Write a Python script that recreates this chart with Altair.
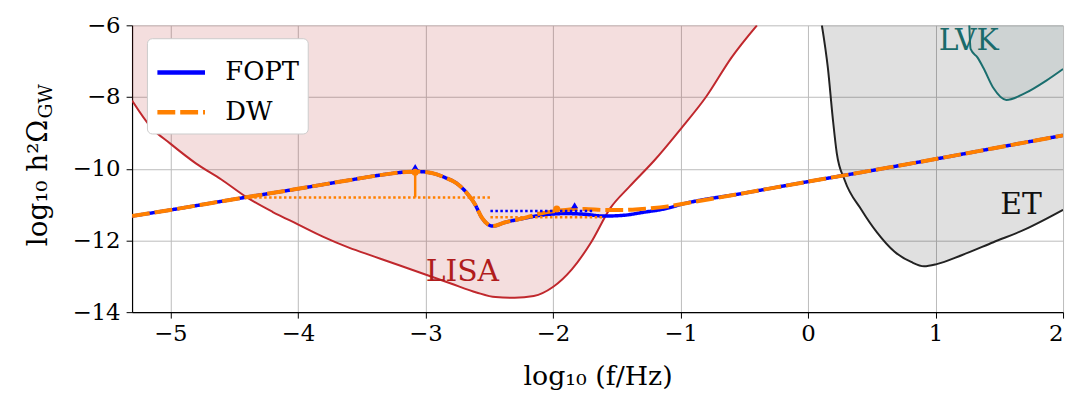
import altair as alt
import pandas as pd

# ---------------- data ----------------
curve_x = [-5.3, -5.0, -4.5, -4.0, -3.6, -3.3, -3.15, -3.05, -2.95, -2.85, -2.75, -2.67,
           -2.61, -2.56, -2.51, -2.47, -2.38, -2.25, -2.1, -1.9, -1.75, -1.6, -1.45, -1.3,
           -1.1, -1.0, -0.5, 0.0, 0.5, 1.0, 1.5, 2.0]
fopt_y = [-11.32, -11.15, -10.85, -10.56, -10.32, -10.15, -10.09, -10.08, -10.12, -10.24,
          -10.42, -10.7, -11.0, -11.35, -11.55, -11.6, -11.5, -11.4, -11.3, -11.25, -11.27,
          -11.32, -11.3, -11.22, -11.1, -11.0, -10.68, -10.36, -10.05, -9.73, -9.4, -9.07]
dw_y = [-11.32, -11.15, -10.85, -10.56, -10.32, -10.15, -10.09, -10.08, -10.12, -10.24,
        -10.42, -10.7, -11.0, -11.35, -11.55, -11.6, -11.5, -11.4, -11.25, -11.15, -11.12,
        -11.15, -11.15, -11.12, -11.05, -10.99, -10.68, -10.36, -10.05, -9.73, -9.4, -9.07]

lisa_x = [-5.3, -5.15, -5.0, -4.8, -4.6, -4.4, -4.2, -4.0, -3.8, -3.6, -3.4, -3.2, -3.0,
          -2.8, -2.6, -2.45, -2.3, -2.15, -2.0, -1.85, -1.7, -1.55, -1.4, -1.2, -1.0,
          -0.8, -0.6, -0.4]
lisa_y = [-8.1, -8.85, -9.3, -9.85, -10.3, -10.8, -11.2, -11.55, -11.9, -12.2, -12.45,
          -12.7, -12.95, -13.2, -13.45, -13.58, -13.6, -13.55, -13.3, -12.8, -12.05,
          -11.1, -10.5, -9.75, -8.9, -8.0, -6.9, -6.0]

et_x = [0.109, 0.156, 0.194, 0.226, 0.288, 0.42, 0.544, 0.677, 0.809, 0.91, 1.01, 1.2,
        1.454, 1.71, 2.0]
et_y = [-6.0, -7.19, -8.58, -9.57, -10.32, -11.15, -11.79, -12.31, -12.6, -12.72,
        -12.66, -12.42, -12.05, -11.68, -11.15]

lvk_x = [1.265, 1.275, 1.33, 1.376, 1.454, 1.555, 1.71, 1.866, 2.0]
lvk_y = [-6.0, -6.66, -6.9, -7.19, -7.75, -8.08, -7.88, -7.55, -7.22]

# plateau (dotted) levels
dot_series = ["DW", "DW", "FOPT"]
dot_x1 = [-4.42, -2.49, -2.49]
dot_x2 = [-2.49, -1.6, -1.68]
dot_y = [-10.8, -11.35, -11.18]

# peak markers
peak_series = ["FOPT", "DW", "FOPT", "DW"]
peak_kind = ["tri", "circ", "tri", "circ"]
peak_x = [-3.08, -3.08, -1.83, -1.97]
peak_y = [-9.95, -10.1, -11.02, -11.12]

labels = ["LISA", "LVK", "ET"]
label_x = [-2.71, 1.26, 1.67]
label_y = [-12.87, -6.44, -11.0]
label_color = ["#b01c1c", "#1a6b6b", "#111111"]

x_ticks = [-5, -4, -3, -2, -1, 0, 1, 2]
y_ticks = [-14, -12, -10, -8, -6]

# ---------------- tables ----------------
curves = pd.DataFrame({
    "x": curve_x * 2,
    "y": fopt_y + dw_y,
    "series": ["FOPT"] * len(curve_x) + ["DW"] * len(curve_x),
})
lisa = pd.DataFrame({"x": lisa_x, "y": lisa_y})
et = pd.DataFrame({"x": et_x, "y": et_y})
lvk = pd.DataFrame({"x": lvk_x, "y": lvk_y})
dots = pd.DataFrame({"series": dot_series, "x1": dot_x1, "x2": dot_x2, "y": dot_y})
peaks = pd.DataFrame({"series": peak_series, "kind": peak_kind, "x": peak_x, "y": peak_y})
errbar = pd.DataFrame({"x": [peak_x[1]], "y1": [peak_y[1]], "y2": [dot_y[0]]})
texts = pd.DataFrame({"label": labels, "x": label_x, "y": label_y, "c": label_color})

FONT = "DejaVu Serif"

xs = alt.Scale(domain=[-5.3, 2], nice=False, zero=False)
ys = alt.Scale(domain=[-14, -6], nice=False, zero=False)
X = lambda f="x": alt.X(f"{f}:Q", scale=xs, axis=alt.Axis(values=x_ticks, title="log₁₀ (f/Hz)"))
Y = lambda f="y": alt.Y(f"{f}:Q", scale=ys, axis=alt.Axis(values=y_ticks, title=None))

color_scale = alt.Scale(domain=["FOPT", "DW"], range=["#0000ff", "#ff8000"])
dash_scale = alt.Scale(domain=["FOPT", "DW"], range=[[1, 0], [18, 5]])

lisa_fill = alt.Chart(lisa).mark_area(color="#b22222", opacity=0.15, clip=True,
                                      interpolate="monotone").encode(
    x=X(), y=Y(), y2=alt.datum(-6))
lisa_line = alt.Chart(lisa).mark_line(color="#c0282d", strokeWidth=2, clip=True,
                                      interpolate="monotone").encode(x=X(), y=Y())

et_fill = alt.Chart(et).mark_area(color="#000000", opacity=0.12, clip=True,
                                  interpolate="monotone").encode(
    x=X(), y=Y(), y2=alt.datum(-6))
et_line = alt.Chart(et).mark_line(color="#222222", strokeWidth=2, clip=True,
                                  interpolate="monotone").encode(x=X(), y=Y())

lvk_fill = alt.Chart(lvk).mark_area(color="#2f5f5f", opacity=0.1, clip=True,
                                    interpolate="monotone").encode(
    x=X(), y=Y(), y2=alt.datum(-6))
lvk_line = alt.Chart(lvk).mark_line(color="#1a6e6e", strokeWidth=2, clip=True,
                                    interpolate="monotone").encode(x=X(), y=Y())

legend = alt.Legend(
    title=None, orient="none", legendX=15, legendY=13, symbolType="stroke",
    symbolSize=2300, symbolStrokeWidth=4.5, labelFont=FONT, labelFontSize=26,
    labelColor="black", fillColor="white", strokeColor="#cccccc", cornerRadius=5,
    padding=8, rowPadding=-3, labelOffset=18)

fopt_line = alt.Chart(curves).transform_filter(alt.datum.series == "FOPT").mark_line(
    strokeWidth=3.5, clip=True, interpolate="monotone").encode(
    x=X(), y=Y(),
    color=alt.Color("series:N", scale=color_scale, legend=legend),
    strokeDash=alt.StrokeDash("series:N", scale=dash_scale, legend=legend))
dw_line = alt.Chart(curves).transform_filter(alt.datum.series == "DW").mark_line(
    strokeWidth=4, clip=True, interpolate="monotone").encode(
    x=X(), y=Y(),
    color=alt.Color("series:N", scale=color_scale, legend=legend),
    strokeDash=alt.StrokeDash("series:N", scale=dash_scale, legend=legend))

dot_lines = alt.Chart(dots).mark_rule(strokeWidth=2.5, strokeDash=[2.5, 2.5]).encode(
    x=X("x1"), x2="x2", y=Y(),
    color=alt.Color("series:N", scale=color_scale, legend=None))
err_rule = alt.Chart(errbar).mark_rule(strokeWidth=2.5, color="#ff8000").encode(
    x=X(), y=Y("y1"), y2="y2")
peak_pts = alt.Chart(peaks).mark_point(filled=True, size=50, opacity=1).encode(
    x=X(), y=Y(),
    color=alt.Color("series:N", scale=color_scale, legend=None),
    shape=alt.Shape("kind:N", scale=alt.Scale(domain=["tri", "circ"], range=["triangle-up", "circle"]), legend=None))

text_marks = alt.Chart(texts).mark_text(font=FONT, fontSize=30).encode(
    x=X(), y=Y(), text="label:N", color=alt.Color("c:N", scale=None))

ytitle1 = alt.Chart(pd.DataFrame({"t": ["log₁₀ h²Ω"]})).mark_text(
    font=FONT, fontSize=28, angle=270, align="right", baseline="middle", color="black").encode(
    x=alt.value(-94), y=alt.value(95), text="t:N")
ytitle2 = alt.Chart(pd.DataFrame({"t": ["GW"]})).mark_text(
    font=FONT, fontSize=19, angle=270, align="left", baseline="middle", color="black").encode(
    x=alt.value(-87), y=alt.value(94), text="t:N")

chart = alt.layer(
    lisa_fill, et_fill, lvk_fill, lisa_line, et_line, lvk_line,
    fopt_line, dw_line, dot_lines, err_rule, peak_pts, text_marks, ytitle1, ytitle2,
).properties(
    width=938, height=289,
    autosize=alt.AutoSizeParams(type="none"),
    padding={"left": 125, "top": 16, "right": 6, "bottom": 79},
).configure_view(stroke=None).configure_axis(
    labelFont=FONT, labelFontSize=23, labelColor="black", titleFont=FONT,
    titleFontSize=27, titleColor="black", titleFontWeight="normal",
    tickColor="black", tickSize=6, domainColor="black", domainWidth=1.2,
    gridColor="#bbbbbb", gridWidth=1, labelPadding=5,
).configure_axisX(titlePadding=18).configure_axisY(labelPadding=6)

chart.save("out.html", embed_options={"renderer": "svg", "actions": False})
